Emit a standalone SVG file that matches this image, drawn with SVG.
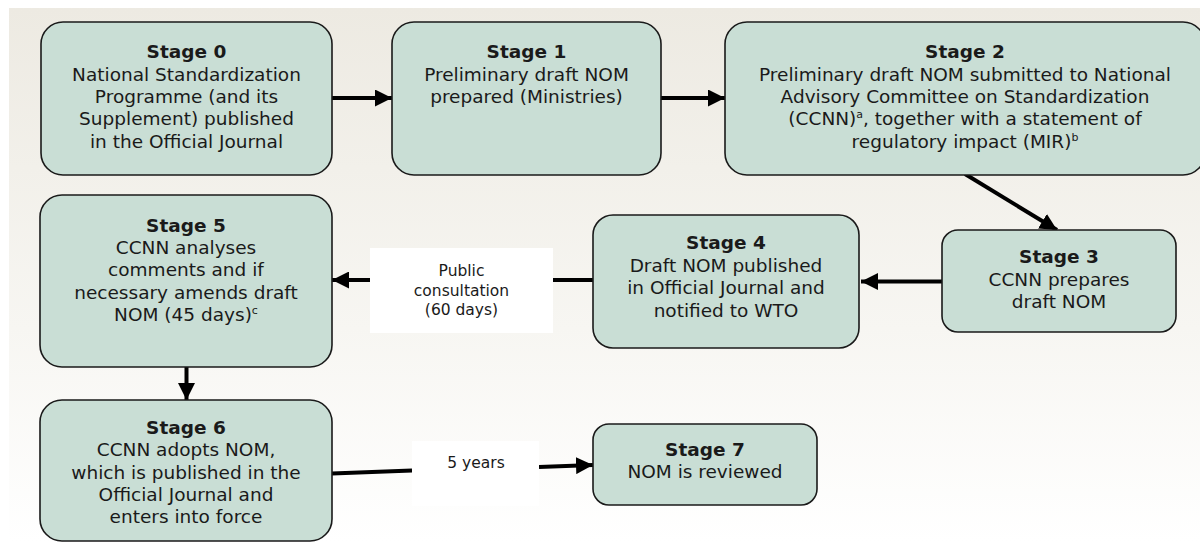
<svg xmlns="http://www.w3.org/2000/svg" width="1200" height="542" viewBox="0 0 1200 542">
<defs>
<linearGradient id="bg" x1="0" y1="0" x2="0" y2="1">
<stop offset="0" stop-color="#edeae2"/>
<stop offset="0.6" stop-color="#f7f6f2"/>
<stop offset="1" stop-color="#ffffff"/>
</linearGradient>
<marker id="ah" markerUnits="userSpaceOnUse" markerWidth="17" markerHeight="17" viewBox="0 0 16 16" refX="16" refY="8" orient="auto">
<path d="M0,0 L16,8 L0,16 Z" fill="#000"/>
</marker>
<style>
.box{fill:#c9ded5;stroke:#1a1a1a;stroke-width:1.6}
.lbl{fill:#ffffff}
text{font-family:"DejaVu Sans",Verdana,sans-serif;fill:#1a1a1a;text-anchor:middle}
.t{font-size:18.5px}
.b{font-weight:bold}
.s{font-size:15.5px}
.c{fill:none;stroke:#000;stroke-width:4}
</style>
</defs>
<rect x="0" y="0" width="1200" height="542" fill="#ffffff"/>
<rect x="9" y="8" width="1191" height="534" fill="url(#bg)"/>

<g id="connectors">
<line class="c" x1="332" y1="98" x2="392" y2="98" marker-end="url(#ah)"/>
<line class="c" x1="661" y1="98" x2="725" y2="98" marker-end="url(#ah)"/>
<line class="c" x1="965" y1="174" x2="1057" y2="230" marker-end="url(#ah)"/>
<line class="c" x1="942" y1="281.5" x2="861" y2="281.5" marker-end="url(#ah)"/>
<line class="c" x1="593" y1="280" x2="553" y2="280"/>
<line class="c" x1="370" y1="280" x2="332" y2="280" marker-end="url(#ah)"/>
<line class="c" x1="186.5" y1="367" x2="186.5" y2="400" marker-end="url(#ah)"/>
<line class="c" x1="332" y1="473.5" x2="412" y2="470.5"/>
<line class="c" x1="539" y1="467" x2="593" y2="465" marker-end="url(#ah)"/>
</g>

<g id="label-public">
<rect class="lbl" x="370" y="248" width="183" height="85"/>
<text class="s"><tspan x="461.5" y="275.5">Public</tspan><tspan x="461.5" y="295.5">consultation</tspan><tspan x="461.5" y="314.5">(60 days)</tspan></text>
</g>
<g id="label-5years">
<rect class="lbl" x="412" y="441" width="127" height="65"/>
<text class="s" x="476" y="468">5 years</text>
</g>

<g id="stage0">
<rect class="box" x="41" y="22" width="291" height="153" rx="22"/>
<text class="t"><tspan class="b" x="186.5" y="58.3">Stage 0</tspan><tspan x="186.5" y="80.7">National Standardization</tspan><tspan x="186.5" y="103">Programme (and its</tspan><tspan x="186.5" y="125.3">Supplement) published</tspan><tspan x="186.5" y="147.7">in the Official Journal</tspan></text>
</g>
<g id="stage1">
<rect class="box" x="392" y="22" width="269" height="153" rx="22"/>
<text class="t"><tspan class="b" x="526.5" y="58.3">Stage 1</tspan><tspan x="526.5" y="80.7">Preliminary draft NOM</tspan><tspan x="526.5" y="103">prepared (Ministries)</tspan></text>
</g>
<g id="stage2">
<rect class="box" x="725" y="22" width="480" height="153" rx="22"/>
<text class="t"><tspan class="b" x="965" y="58.3">Stage 2</tspan><tspan x="965" y="80.7">Preliminary draft NOM submitted to National</tspan><tspan x="965" y="103">Advisory Committee on Standardization</tspan><tspan x="965" y="125.3">(CCNN)<tspan font-size="11" dy="-7">a</tspan><tspan dy="7">, together with a statement of</tspan></tspan><tspan x="965" y="147.7">regulatory impact (MIR)<tspan font-size="11" dy="-7">b</tspan></tspan></text>
</g>
<g id="stage3">
<rect class="box" x="942" y="230" width="234" height="102" rx="16"/>
<text class="t"><tspan class="b" x="1059" y="263.3">Stage 3</tspan><tspan x="1059" y="286">CCNN prepares</tspan><tspan x="1059" y="308.3">draft NOM</tspan></text>
</g>
<g id="stage4">
<rect class="box" x="593" y="215" width="266" height="133" rx="20"/>
<text class="t"><tspan class="b" x="726" y="249">Stage 4</tspan><tspan x="726" y="271.7">Draft NOM published</tspan><tspan x="726" y="294">in Official Journal and</tspan><tspan x="726" y="316.7">notified to WTO</tspan></text>
</g>
<g id="stage5">
<rect class="box" x="40" y="195" width="292" height="172" rx="22"/>
<text class="t"><tspan class="b" x="186" y="231.7">Stage 5</tspan><tspan x="186" y="254">CCNN analyses</tspan><tspan x="186" y="276.3">comments and if</tspan><tspan x="186" y="298.7">necessary amends draft</tspan><tspan x="186" y="321">NOM (45 days)<tspan font-size="11" dy="-7">c</tspan></tspan></text>
</g>
<g id="stage6">
<rect class="box" x="40" y="400" width="292" height="141" rx="22"/>
<text class="t"><tspan class="b" x="186" y="434">Stage 6</tspan><tspan x="186" y="456.3">CCNN adopts NOM,</tspan><tspan x="186" y="478.7">which is published in the</tspan><tspan x="186" y="501">Official Journal and</tspan><tspan x="186" y="523.3">enters into force</tspan></text>
</g>
<g id="stage7">
<rect class="box" x="593" y="424" width="224" height="81" rx="16"/>
<text class="t"><tspan class="b" x="705" y="456">Stage 7</tspan><tspan x="705" y="478.3">NOM is reviewed</tspan></text>
</g>
</svg>
